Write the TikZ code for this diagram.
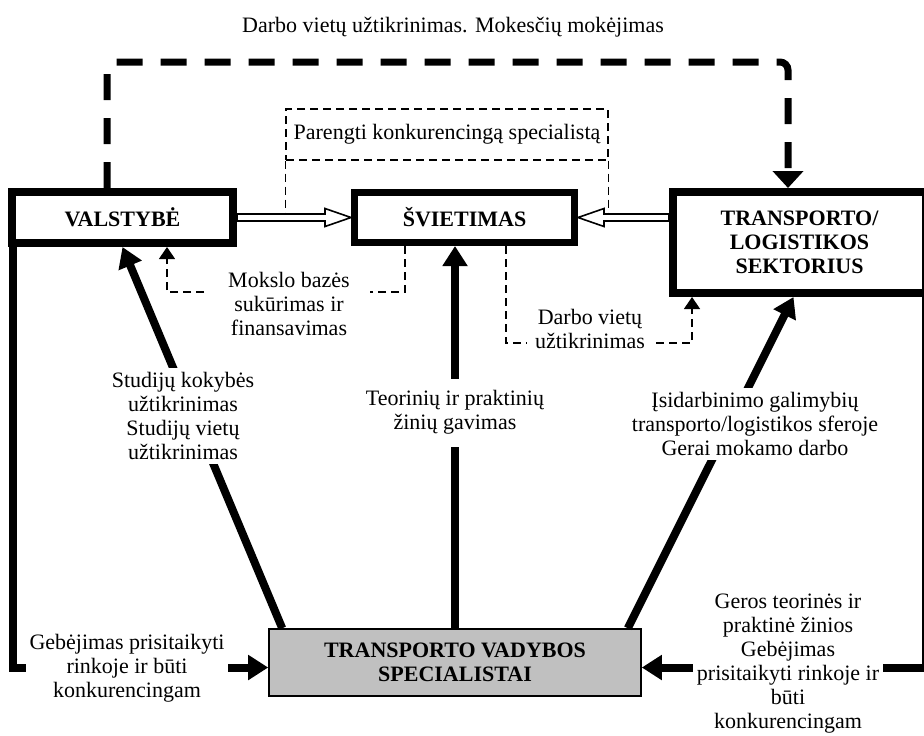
\documentclass[tikz,border=0pt]{standalone}
\usepackage{fontspec}
\setmainfont{Liberation Serif}
\usetikzlibrary{arrows.meta,calc}
\definecolor{specgray}{RGB}{192,192,192}
\begin{document}
\begin{tikzpicture}[x=0.5pt,y=-0.5pt,line join=miter,font=\fontsize{11}{12}\selectfont,>={Triangle[length=10pt,width=12pt]}]
\tikzset{box/.style={draw,line width=4pt,fill=white,align=center,inner sep=0pt,font=\fontsize{11}{12}\selectfont\bfseries},
  lbl/.style={align=center,fill=white,inner sep=2pt},
  heavy/.style={line width=4pt,->},
  dashline/.style={line width=0.7pt,dash pattern=on 4pt off 2.5pt},
  thindash/.style={dashline,-{Triangle[length=6pt,width=8pt]}},
  bigdash/.style={line width=3.5pt,dash pattern=on 13pt off 9pt,rounded corners=4pt,-{Triangle[length=8.5pt,width=15pt]}},
  hollow/.style={line width=0.8pt,fill=white}}
\useasboundingbox (0,0) rectangle (924,735);
\clip (0,0) rectangle (924,735);
% boxes
\node (top) at (453,27) {Darbo vietų užtikrinimas. Mokesčių mokėjimas};
\node[box,minimum width=110.5pt,minimum height=25.5pt] (valst) at (122.5,217.5) {VALSTYBĖ};
\node[box,line width=3.5pt,minimum width=110pt,minimum height=25pt] (svie) at (464.5,217.5) {ŠVIETIMAS};
\node[box,minimum width=126.5pt,minimum height=50.5pt] (trans) at (799.5,242.5) {TRANSPORTO/\\LOGISTIKOS\\SEKTORIUS};
\node[box,line width=0.8pt,fill=specgray,minimum width=186pt,minimum height=33.5pt] (spec) at (455,662.5) {TRANSPORTO VADYBOS\\SPECIALISTAI};
\node[draw,dashline,minimum width=161pt,minimum height=25.5pt] (par) at (447,134.5) {Parengti konkurencingą specialistą};
\draw[dashline] (par.south west) -- (par.south west |- valst.east);
\draw[dashline] (par.south east) -- (par.south east |- valst.east);
% hollow arrows
\draw[hollow] ($(valst.east)+(0,-3.5)$) -- ($(svie.west)+(-26,-3.5)$) -- ($(svie.west)+(-26,-9)$) -- (svie.west)
  -- ($(svie.west)+(-26,9)$) -- ($(svie.west)+(-26,3.5)$) -- ($(valst.east)+(0,3.5)$) -- cycle;
\draw[hollow] ($(trans.west |- svie.east)+(0,-3.5)$) -- ($(svie.east)+(26,-3.5)$) -- ($(svie.east)+(26,-9)$) -- (svie.east)
  -- ($(svie.east)+(26,9)$) -- ($(svie.east)+(26,3.5)$) -- ($(trans.west |- svie.east)+(0,3.5)$) -- cycle;
% connectors
\draw[bigdash] (107,0 |- valst.north) -- (107,62) -- (788,62) -- (788,0 |- trans.north);
\draw[thindash] (405,0 |- svie.south) |- (167,292) -- (167,0 |- valst.south);
\draw[thindash] (506,0 |- svie.south) |- (692,343) -- (692,0 |- trans.south);
\draw[heavy] ($(spec.north west)+(14,0)$) -- (valst.south);
\draw[heavy] (spec.north) -- (spec.north |- svie.south);
\draw[heavy] ($(spec.north east)+(-14,0)$) -- ($(trans.south)+(-6,0)$);
\draw[heavy] ($(valst.south west)+(5,0)$) |- ($(spec.west)+(0,5)$);
\draw[heavy] ($(trans.south east)+(-4,0)$) |- ($(spec.east)+(0,5)$);
% labels
\node[lbl,inner xsep=10pt] (mokslo) at (289,304) {Mokslo bazės\\sukūrimas ir\\finansavimas};
\node[lbl,inner xsep=4pt] (darbo) at (590,328.5) {Darbo vietų\\užtikrinimas};
\node[lbl] (studiju) at (183,416) {Studijų kokybės\\užtikrinimas\\Studijų vietų\\užtikrinimas};
\node[lbl,inner ysep=6pt] (teor) at (455,412.5) {Teorinių ir praktinių\\žinių gavimas};
\node[lbl] (isid) at (755,424) {Įsidarbinimo galimybių\\transporto/logistikos sferoje\\Gerai mokamo darbo};
\node[lbl] (gebl) at (127,668) {Gebėjimas prisitaikyti\\rinkoje ir būti\\konkurencingam};
\node[lbl] (gebr) at (788,664) {Geros teorinės ir\\praktinė žinios\\Gebėjimas\\prisitaikyti rinkoje ir\\būti\\konkurencingam};
\end{tikzpicture}
\end{document}
